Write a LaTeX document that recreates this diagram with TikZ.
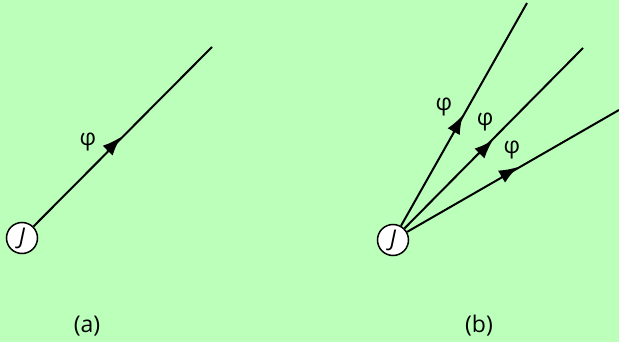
\documentclass[tikz,border=0pt]{standalone}
\usepackage{fontspec}
\setmainfont{Open Sans}
\usetikzlibrary{arrows.meta,calc}
\definecolor{bg}{HTML}{BBFFBB}
\tikzset{
  src/.style={circle,draw=black,fill=white,line width=1.5pt,minimum size=31pt,inner sep=0pt,font=\itshape\fontsize{23}{23}\selectfont},
  ray/.style={line width=2pt,black},
  rayarrow/.style={ray,-{Latex[length=19pt,width=14pt]}},
  lab/.style={font=\fontsize{23}{23}\selectfont},
}
\begin{document}
\begin{tikzpicture}[x=1pt,y=-1pt]
\fill[bg] (0,0) rectangle (619,342);
\useasboundingbox (0,0) rectangle (619,342);
% (a)
\node[src] (Ja) at (22,238) {J};
\coordinate (ta) at (121,137);
\coordinate (ea) at (212,47);
\draw[ray] (Ja) -- (ea);
\draw[rayarrow] ($(ta)!19.5pt!(Ja)$) -- (ta);
\node[lab] (pa) at (88,142) {φ};
\node[lab] (capa) at (87,326) {(a)};
% (b)
\node[src] (Jb) at (393,240) {J};
\coordinate (t1) at (463,115);
\coordinate (e1) at (527,3);
\coordinate (t2) at (493,140);
\coordinate (e2) at (583,48);
\coordinate (t3) at (518,167);
\coordinate (e3) at (619,110);
\draw[ray] (Jb) -- (e1);
\draw[rayarrow] ($(t1)!19.5pt!(Jb)$) -- (t1);
\draw[ray] (Jb) -- (e2);
\draw[rayarrow] ($(t2)!19.5pt!(Jb)$) -- (t2);
\draw[ray] (Jb) -- (e3);
\draw[rayarrow] ($(t3)!19.5pt!(Jb)$) -- (t3);
\node[lab] (p1) at (444,107) {φ};
\node[lab] (p2) at (485,122) {φ};
\node[lab] (p3) at (512,150) {φ};
\node[lab] (capb) at (479,326) {(b)};
\end{tikzpicture}
\end{document}
